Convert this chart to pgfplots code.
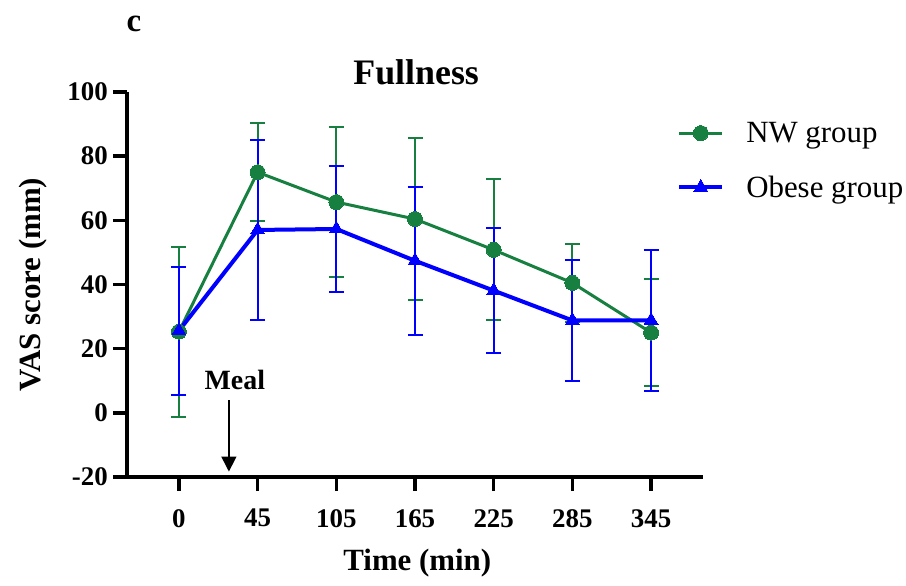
\documentclass[border=0pt]{standalone}
\usepackage{pgfplots}
\pgfplotsset{compat=1.18}
\usepackage{pgfplotstable}
\usepackage{fontspec}
\setmainfont{Liberation Serif}
\usetikzlibrary{arrows.meta}
\definecolor{nwgreen}{RGB}{23,128,64}
\definecolor{obblue}{RGB}{0,0,255}

\pgfplotstableread{
x y e
0 25.3 26.5
1 75.0 15.2
2 65.7 23.5
3 60.4 25.2
4 50.8 22.0
5 40.5 12.1
6 25.0 16.6
}\nwdata
\pgfplotstableread{
x y e
0 25.6 20.0
1 57.0 28.0
2 57.3 19.5
3 47.4 23.1
4 38.1 19.5
5 28.8 18.8
6 28.8 22.0
}\obdata

\begin{document}
\begin{tikzpicture}
\begin{axis}[
  scale only axis, width=576bp, height=385bp,
  xmin=-0.66, xmax=6.66, ymin=-20, ymax=100,
  clip=false,
  axis lines*=left,
  axis line style={line width=3.5bp, black},
  xtick={0,...,6}, xticklabels={0,45,105,165,225,285,345},
  ytick={-20,0,20,40,60,80,100},
  tick align=outside, major tick length=14bp,
  major tick style={line width=3.5bp, black},
  /pgf/number format/assume math mode=true,
  ticklabel style={font=\fontsize{27}{30}\selectfont\bfseries},
  yticklabel style={inner sep=5bp},
  xticklabel style={inner sep=2bp, yshift=-16bp},
  xlabel={Time (min)},
  xlabel style={at={(axis description cs:0.504,0)}, anchor=base, yshift=-93bp, font=\fontsize{31}{36}\selectfont\bfseries},
  ylabel={VAS score (mm)},
  ylabel style={at={(axis description cs:-0.151,0.5)}, anchor=base, font=\fontsize{31}{36}\selectfont\bfseries},
  title={Fullness},
  title style={at={(axis description cs:0.502,1.005)}, anchor=base, yshift=0pt, font=\fontsize{36}{40}\selectfont\bfseries},
  legend style={draw=none, fill=none, at={(axis description cs:0.955,0.922)}, anchor=north west, inner sep=0pt, row sep=32bp, column sep=22bp, font=\fontsize{31}{36}\selectfont, nodes={inner sep=0pt}},
  legend cell align=left,
  legend image code/.code={\draw[#1, mark repeat=2, mark phase=2] plot coordinates {(0bp,0bp) (21.5bp,0bp) (43bp,0bp)};},
]
\addplot[color=nwgreen, line width=3bp, mark=*, mark size=7.5bp, mark options={solid, fill=nwgreen, draw=nwgreen, line width=0pt},
  error bars/.cd, y dir=both, y explicit,
  error bar style={line width=2bp, nwgreen},
  error mark options={rotate=90, mark size=7.5bp, line width=2bp, nwgreen}]
  table[x=x, y=y, y error=e] {\nwdata};
\addlegendentry{NW group}
\addplot[color=obblue, line width=4bp, mark=triangle*, mark size=8bp, mark options={solid, fill=obblue, draw=obblue, line width=0pt},
  error bars/.cd, y dir=both, y explicit,
  error bar style={line width=2bp, obblue},
  error mark options={rotate=90, mark size=7.5bp, line width=2bp, obblue}]
  table[x=x, y=y, y error=e] {\obdata};
\addlegendentry{Obese group}
\draw[line width=1.5bp, -{Triangle[width=15bp, length=15bp]}] (axis cs:0.635,4) -- (axis cs:0.635,-18.3);
\node[anchor=base, font=\fontsize{28}{32}\selectfont\bfseries, inner sep=0pt] at (axis cs:0.71,7.2) {Meal};
\node[anchor=base, font=\fontsize{33}{36}\selectfont\bfseries, inner sep=0pt] at (axis description cs:0.012,1.158) {c};
\end{axis}
\pgfresetboundingbox
\path (-127bp,-109bp) rectangle (779bp,477bp);
\end{tikzpicture}
\end{document}
